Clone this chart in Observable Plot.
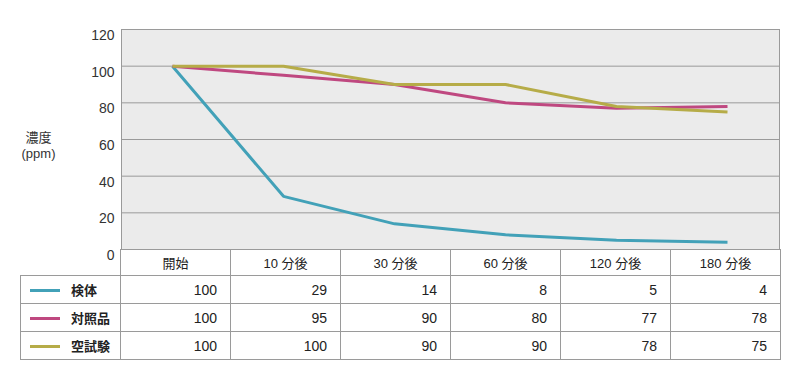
<!DOCTYPE html>
<html>
<head>
<meta charset="utf-8">
<script src="https://cdn.jsdelivr.net/npm/d3@7"></script>
<script src="https://cdn.jsdelivr.net/npm/@observablehq/plot@0.6"></script>
<style>
  body { margin: 0; background: #fff; }
  #wrap { position: relative; width: 800px; height: 378px; font-family: "Liberation Sans", "Noto Sans CJK JP", sans-serif; color: #222; }
  #wrap svg { position: absolute; left: 0; top: 0; }
  table { position: absolute; left: 20px; top: 249px; border-collapse: collapse; table-layout: fixed; width: 760px; font-size: 14px; }
  td { border: 1px solid #9a9a9a; padding: 0; background: #fff; white-space: nowrap; overflow: hidden; }
  tr.head td { height: 25px; text-align: center; font-size: 13px; }
  tr.head td.blank { border-top: none; border-left: none; background: transparent; }
  tr.row td { height: 27px; text-align: right; padding-right: 13px; }
  tr.row td.leg { text-align: left; padding-left: 9px; padding-right: 0; font-family: "Noto Sans CJK JP", sans-serif; font-weight: bold; font-size: 13px; }
  .sw { display: inline-block; width: 30px; height: 3px; vertical-align: middle; margin-right: 11px; position: relative; top: -1px; }
</style>
</head>
<body>
<div id="wrap"></div>
<script>
const categories = ["開始", "10 分後", "30 分後", "60 分後", "120 分後", "180 分後"];
const seriesNames = ["検体", "対照品", "空試験"];
const kentai = [100, 29, 14, 8, 5, 4];
const taishohin = [100, 95, 90, 80, 77, 78];
const karashiken = [100, 100, 90, 90, 78, 75];
const colors = ["#42a1b8", "#bf4880", "#b6ac48"];
const yTicks = [0, 20, 40, 60, 80, 100, 120];
const yLabelTop = "濃度";
const yLabelUnit = "(ppm)";

const seriesValues = [kentai, taishohin, karashiken];
const data = [];
seriesNames.forEach((s, i) => categories.forEach((c, j) => data.push({series: s, cat: c, value: seriesValues[i][j]})));

const chart = Plot.plot({
  width: 800,
  height: 378,
  marginLeft: 121,
  marginRight: 21,
  marginTop: 29,
  marginBottom: 129,
  style: {fontFamily: "'Liberation Sans', 'Noto Sans CJK JP', sans-serif", fontSize: "14px", color: "#333", background: "transparent"},
  x: {type: "point", domain: categories, range: [170, 728], padding: 0, axis: null},
  y: {domain: [0, 120]},
  color: {domain: seriesNames, range: colors},
  marks: [
    Plot.frame({fill: "#ebebeb"}),
    Plot.gridY(yTicks, {stroke: "#9a9a9a", strokeOpacity: 1, strokeWidth: 1}),
    Plot.frame({stroke: "#9a9a9a", strokeWidth: 1}),
    Plot.axisY(yTicks, {tickSize: 0, tickPadding: 7, dy: 6, fontSize: 14, label: null, fill: "#333"}),
    Plot.text([yLabelTop], {frameAnchor: "left", dx: -83, dy: -2, textAnchor: "middle", fontSize: 13, fill: "#333", fontFamily: "'Noto Sans CJK JP', sans-serif"}),
    Plot.text([yLabelUnit], {frameAnchor: "left", dx: -83, dy: 14, textAnchor: "middle", fontSize: 13, fill: "#333", fontFamily: "'Liberation Sans', sans-serif"}),
    Plot.line(data, {x: "cat", y: "value", z: "series", stroke: "series", strokeWidth: 3, strokeLinejoin: "miter", strokeLinecap: "butt"})
  ]
});
document.getElementById("wrap").appendChild(chart);

// data table below the plot
const table = document.createElement("table");
const cg = document.createElement("colgroup");
[100, ...categories.map(() => 110)].forEach(w => { const col = document.createElement("col"); col.style.width = w + "px"; cg.appendChild(col); });
table.appendChild(cg);
const head = document.createElement("tr");
head.className = "head";
const blank = document.createElement("td"); blank.className = "blank"; head.appendChild(blank);
categories.forEach(c => { const td = document.createElement("td"); td.textContent = c; head.appendChild(td); });
table.appendChild(head);
seriesNames.forEach((s, i) => {
  const tr = document.createElement("tr");
  tr.className = "row";
  const leg = document.createElement("td");
  leg.className = "leg";
  const sw = document.createElement("span"); sw.className = "sw"; sw.style.background = colors[i];
  leg.appendChild(sw);
  leg.appendChild(document.createTextNode(s));
  tr.appendChild(leg);
  seriesValues[i].forEach(v => { const td = document.createElement("td"); td.textContent = v; tr.appendChild(td); });
  table.appendChild(tr);
});
document.getElementById("wrap").appendChild(table);
</script>
</body>
</html>
